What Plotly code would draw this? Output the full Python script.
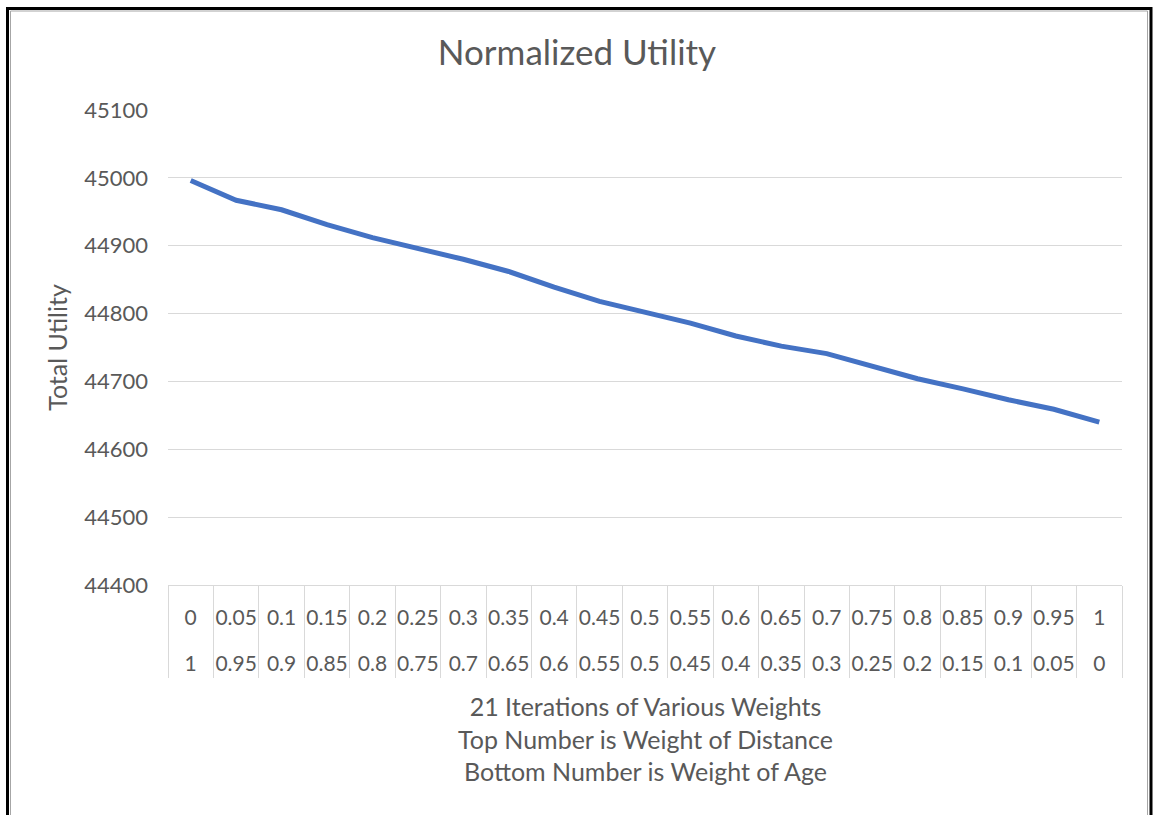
import plotly.graph_objects as go

# weights used in each of the 21 runs
distance_weight = ["0", "0.05", "0.1", "0.15", "0.2", "0.25", "0.3", "0.35", "0.4", "0.45", "0.5",
                   "0.55", "0.6", "0.65", "0.7", "0.75", "0.8", "0.85", "0.9", "0.95", "1"]
age_weight = ["1", "0.95", "0.9", "0.85", "0.8", "0.75", "0.7", "0.65", "0.6", "0.55", "0.5",
              "0.45", "0.4", "0.35", "0.3", "0.25", "0.2", "0.15", "0.1", "0.05", "0"]
total_utility = [44996, 44967, 44953, 44931, 44912, 44896, 44880, 44862, 44839, 44818, 44802,
                 44786, 44767, 44752, 44741, 44723, 44704, 44689, 44673, 44659, 44640]

W, H = 1154, 815
L, R, T, B = 168, 32, 110, 230
PW, PH = W - L - R, H - T - B

def px(x):
    return (x - L) / PW

def py(y):
    return (H - B - y) / PH

FONT = "Lato, 'Open Sans', sans-serif"
TXT = "#595959"
GRID = "#d9d9d9"

fig = go.Figure()

fig.add_trace(go.Scatter(
    x=distance_weight,
    y=total_utility,
    mode="lines",
    line=dict(color="#4472C4", width=5),
    showlegend=False,
))
# nothing drawn, only carries the second row of category labels
fig.add_trace(go.Scatter(
    x=list(range(len(age_weight))),
    y=total_utility,
    xaxis="x2",
    mode="none",
    hoverinfo="skip",
    showlegend=False,
))

fig.update_layout(
    width=W, height=H,
    margin=dict(l=L, r=R, t=T, b=B),
    paper_bgcolor="white",
    plot_bgcolor="white",
    font=dict(family=FONT, size=21, color=TXT),
    title=dict(text="Normalized Utility", x=0.5, xanchor="center",
               y=1 - 53 / H, yanchor="middle",
               font=dict(family=FONT, size=35, color=TXT)),
    xaxis=dict(
        type="category",
        range=[-0.5, 20.5],
        tickson="boundaries",
        ticks="outside", ticklen=92, tickcolor=GRID, tickwidth=1,
        showline=True, linecolor=GRID, linewidth=1,
        showgrid=False, zeroline=False,
        tickangle=0,
        ticklabelstandoff=14,
        tickfont=dict(family=FONT, size=21, color=TXT),
    ),
    xaxis2=dict(
        overlaying="x", side="bottom", anchor="y",
        range=[-0.5, 20.5],
        tickmode="array", tickvals=list(range(len(age_weight))), ticktext=age_weight,
        ticks="", showline=False, showgrid=False, zeroline=False,
        tickangle=0,
        ticklabelstandoff=64,
        tickfont=dict(family=FONT, size=21, color=TXT),
    ),
    yaxis=dict(
        range=[44400, 45100], dtick=100, tickformat="d",
        showgrid=True, gridcolor=GRID, gridwidth=1,
        zeroline=False, showline=False, ticks="",
        ticklabelstandoff=19,
        tickfont=dict(family=FONT, size=22, color=TXT),
        title=dict(text="Total Utility", standoff=9,
                   font=dict(family=FONT, size=25, color=TXT)),
    ),
)

fig.add_annotation(
    text="21 Iterations of Various Weights<br>Top Number is Weight of Distance<br>Bottom Number is Weight of Age",
    xref="paper", yref="paper", x=0.5, y=py(689), xanchor="center", yanchor="top",
    showarrow=False, align="center",
    font=dict(family=FONT, size=25, color=TXT),
)

# chart border: light grey inner line plus the black frame of the screenshot
fig.add_shape(type="path", xref="paper", yref="paper",
              path=f"M {px(10.5)},{py(830)} L {px(10.5)},{py(11)} L {px(1147.5)},{py(11)} L {px(1147.5)},{py(830)}",
              line=dict(color="#a6a6a6", width=1))
fig.add_shape(type="path", xref="paper", yref="paper",
              path=f"M {px(7.5)},{py(830)} L {px(7.5)},{py(8.5)} L {px(1151)},{py(8.5)} L {px(1151)},{py(830)}",
              line=dict(color="black", width=3))

fig.write_html("out.html", config={"displayModeBar": False},
               post_script="document.body.style.margin = '0';")
